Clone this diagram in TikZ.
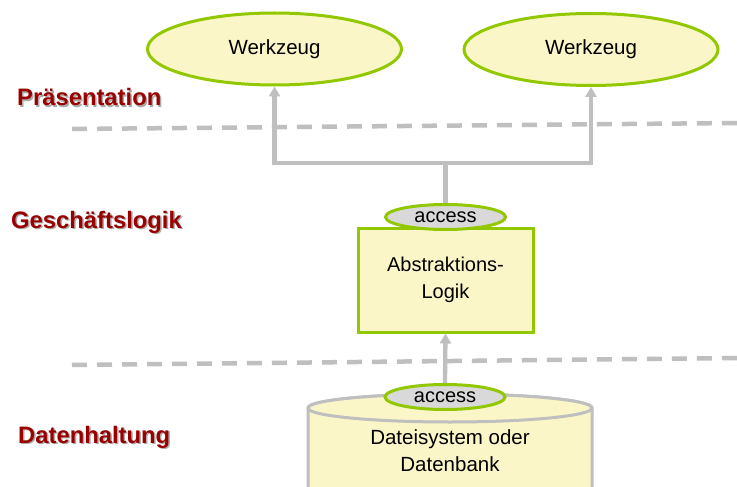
\documentclass[tikz,border=0pt]{standalone}
\usepackage{fontspec}
\setmainfont{Liberation Sans}
\usetikzlibrary{shapes.geometric,arrows.meta}
\definecolor{lgreen}{RGB}{146,200,0}
\definecolor{lyellow}{RGB}{251,246,200}
\definecolor{lgray}{RGB}{191,191,191}
\definecolor{accgray}{RGB}{217,217,217}
\definecolor{dred}{RGB}{153,0,0}
\definecolor{shgray}{RGB}{170,170,170}
\tikzset{
  tool/.style={ellipse, draw=lgreen, line width=3pt, fill=lyellow, inner sep=0pt,
    minimum width=254pt, minimum height=72pt, font=\fontsize{20.5}{27}\selectfont},
  accessnode/.style={ellipse, draw=lgreen, line width=3pt, fill=accgray, inner sep=0pt,
    minimum width=120pt, minimum height=25pt, font=\fontsize{20}{24}\selectfont},
  logicbox/.style={rectangle, draw=lgreen, line width=3pt, fill=lyellow, inner sep=0pt,
    minimum width=175pt, minimum height=104pt, align=center, font=\fontsize{20}{27}\selectfont},
  bodytext/.style={align=center, font=\fontsize{20.5}{27}\selectfont},
  layerlabel/.style={anchor=base west, text=dred, font=\fontsize{23.8}{28}\selectfont\bfseries, inner sep=0pt},
  layershadow/.style={anchor=base west, text=shgray, font=\fontsize{23.8}{28}\selectfont\bfseries, inner sep=0pt},
  conn/.style={draw=lgray, line width=4.3pt},
  arrowconn/.style={conn, -{Triangle[length=10pt,width=11pt]}},
  sepline/.style={draw=lgray, line width=4.5pt, dash pattern=on 15pt off 10pt},
  cylbody/.style={draw=lgray, line width=3pt, fill=lyellow}
}
\begin{document}
\begin{tikzpicture}[x=1pt,y=-1pt]
\clip (0,0) rectangle (737,487);
\useasboundingbox (0,0) rectangle (737,487);
\fill[white] (0,0) rectangle (737,487);

% separator lines
\draw[sepline] (72,129) -- (737,123);
\draw[sepline] (72,365) -- (737,358);

% layer labels with shadow
\node[layershadow] (s1) at (18.5,107.5) {Präsentation};
\node[layerlabel] (l1) at (17,106) {Präsentation};
\node[layershadow] (s2) at (12.5,229.5) {Geschäftslogik};
\node[layerlabel] (l2) at (11,228) {Geschäftslogik};
\node[layershadow] (s3) at (19.5,444.5) {Datenhaltung};
\node[layerlabel] (l3) at (18,443) {Datenhaltung};

% tools
\node[tool] (w1) at (274.5,49) {Werkzeug};
\node[tool] (w2) at (591,49.5) {Werkzeug};

% database cylinder
\path[cylbody] (308,408) -- (308,520) -- (592,520) -- (592,408) arc[start angle=0,end angle=-180,x radius=142,y radius=14] -- cycle;
\path[cylbody] (450,408) ellipse[x radius=142, y radius=14];
\node[bodytext] (db) at (450,451) {Dateisystem oder\\Datenbank};

% logic box
\node[logicbox] (box) at (445.5,280) {Abstraktions-\\Logik};

% access interfaces
\node[accessnode] (acc1) at (445.5,217) {access};
\node[accessnode] (acc2) at (445,397) {access};

% connectors
\coordinate (j) at (445.5,163);
\draw[conn] (acc1.north) -- (j);
\draw[arrowconn] (j) -| (w1.south);
\draw[arrowconn] (j) -| (w2.south);
\draw[arrowconn] (acc2.north) -- (box.south);
\end{tikzpicture}
\end{document}
